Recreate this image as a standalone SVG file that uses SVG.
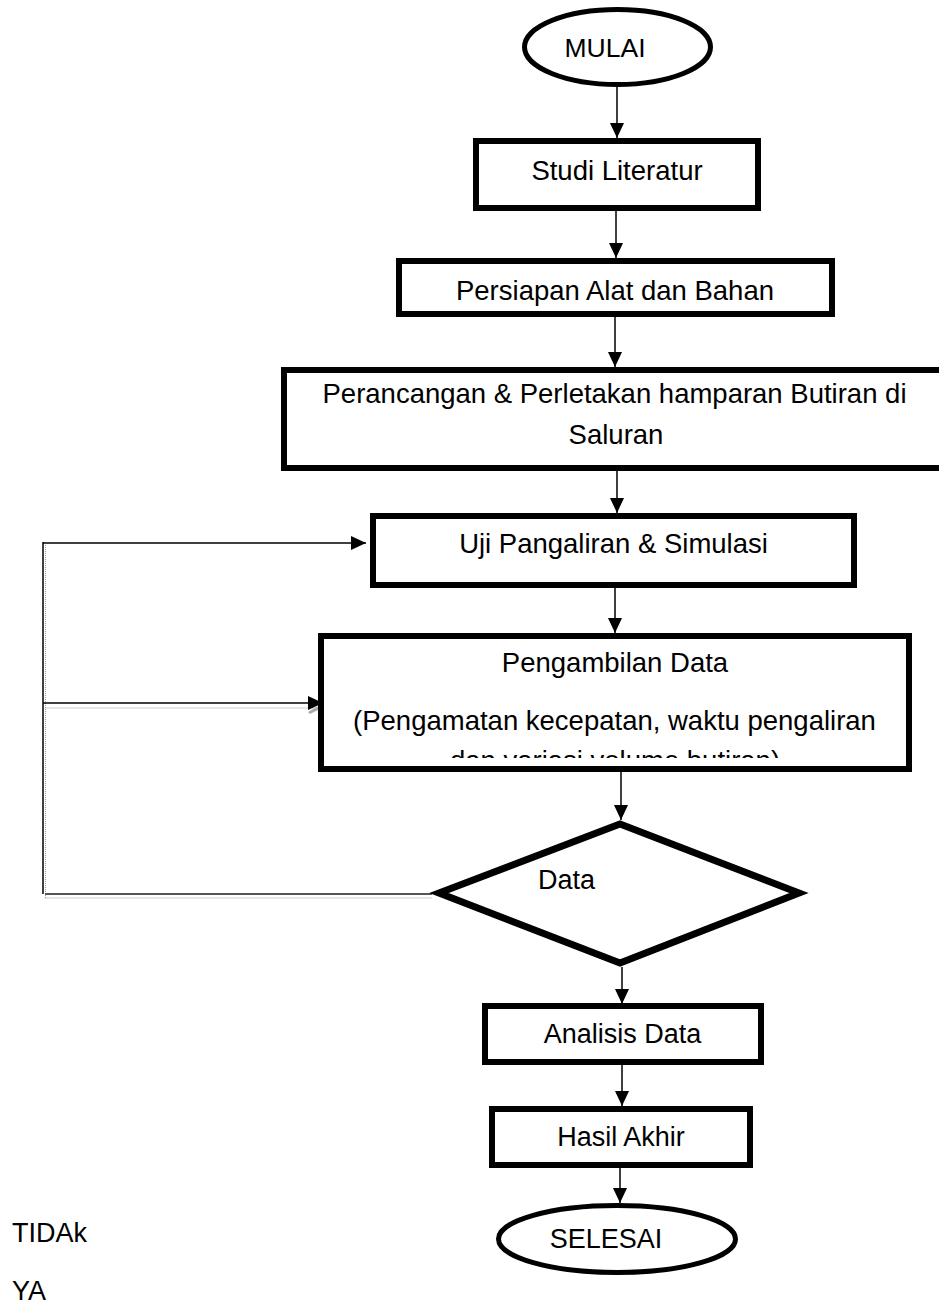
<svg xmlns="http://www.w3.org/2000/svg" width="939" height="1307" viewBox="0 0 939 1307">
<style>
.t{font-family:"Liberation Sans",Arial,sans-serif;font-size:27.5px;fill:#000}
.m{text-anchor:middle}
.box{fill:#fff;stroke:#000;stroke-width:6}
.conn{stroke:#000;stroke-width:1.5;fill:none}
.dot{stroke:#9a9a9a;stroke-width:1;stroke-dasharray:1 1;fill:none}
</style>
<defs>
<marker id="ah" markerWidth="15" markerHeight="14" refX="15" refY="7" orient="auto" markerUnits="userSpaceOnUse">
<path d="M0,0 L15,7 L0,14 Z" fill="#000"/>
</marker>
<clipPath id="clipP"><rect x="318" y="633" width="594" height="125"/></clipPath>
</defs>

<g id="connectors">
<line class="conn" x1="617" y1="87" x2="617" y2="138" marker-end="url(#ah)"/>
<line class="conn" x1="616" y1="211" x2="616" y2="258" marker-end="url(#ah)"/>
<line class="conn" x1="615" y1="317" x2="615" y2="367" marker-end="url(#ah)"/>
<line class="conn" x1="617" y1="471" x2="617" y2="513" marker-end="url(#ah)"/>
<line class="conn" x1="615" y1="588" x2="615" y2="633" marker-end="url(#ah)"/>
<line class="conn" x1="621" y1="772" x2="621" y2="820" marker-end="url(#ah)"/>
<line class="conn" x1="622" y1="967" x2="622" y2="1004" marker-end="url(#ah)"/>
<line class="conn" x1="622" y1="1065" x2="622" y2="1106" marker-end="url(#ah)"/>
<line class="conn" x1="620" y1="1168" x2="620" y2="1203" marker-end="url(#ah)"/>
<line class="dot" x1="45.5" y1="545" x2="45.5" y2="898"/>
<line class="dot" x1="45.5" y1="708" x2="318" y2="708"/>
<line class="dot" x1="45.5" y1="898" x2="432" y2="898"/>
<polygon points="308,712 320,705 322,708 310,714" fill="#aaa"/>
<line class="conn" x1="43" y1="542" x2="43" y2="894"/>
<line class="conn" x1="43" y1="543" x2="366" y2="543" marker-end="url(#ah)"/>
<line class="conn" x1="43" y1="703" x2="323" y2="703" marker-end="url(#ah)"/>
<line x1="45" y1="894" x2="432" y2="894" stroke="#555" stroke-width="2"/>
</g>

<g id="mulai">
<ellipse cx="617.5" cy="47" rx="93" ry="37.5" fill="#fff" stroke="#000" stroke-width="5"/>
<text class="t m" x="605" y="57" style="font-size:26.5px">MULAI</text>
</g>

<g id="studi">
<rect class="box" x="476" y="141" width="282" height="67"/>
<text class="t m" x="617" y="180">Studi Literatur</text>
</g>

<g id="persiapan">
<rect class="box" x="399" y="261" width="433" height="53"/>
<text class="t m" x="615" y="300">Persiapan Alat dan Bahan</text>
</g>

<g id="perancangan">
<rect class="box" x="284" y="370" width="665" height="98"/>
<text class="t m" x="614.5" y="403">Perancangan &amp; Perletakan hamparan Butiran di</text>
<text class="t m" x="616" y="444">Saluran</text>
</g>

<g id="uji">
<rect class="box" x="373" y="516" width="481" height="69"/>
<text class="t m" x="613.5" y="553">Uji Pangaliran &amp; Simulasi</text>
</g>

<g id="pengambilan">
<rect class="box" x="321" y="636" width="588" height="133"/>
<text class="t m" x="615" y="672">Pengambilan Data</text>
<text class="t m" x="614.5" y="730">(Pengamatan kecepatan, waktu pengaliran</text>
<text class="t m" x="615" y="770" clip-path="url(#clipP)">dan variasi volume butiran)</text>
</g>

<g id="decision">
<polygon points="620,824 799,893 620,963 439,893" fill="#fff" stroke="#000" stroke-width="7"/>
<text class="t" x="538" y="889" style="font-size:27px">Data</text>
</g>

<g id="analisis">
<rect class="box" x="485" y="1006" width="276" height="56"/>
<text class="t m" x="622.5" y="1043" style="font-size:27px">Analisis Data</text>
</g>

<g id="hasil">
<rect class="box" x="492" y="1109" width="258" height="56"/>
<text class="t m" x="621" y="1146" style="font-size:27px">Hasil Akhir</text>
</g>

<g id="selesai">
<ellipse cx="617" cy="1239" rx="118.5" ry="33.5" fill="#fff" stroke="#000" stroke-width="5"/>
<text class="t m" x="606" y="1248" style="font-size:27px">SELESAI</text>
</g>

<g id="labels">
<text class="t" x="12" y="1242" style="font-size:27px">TIDAk</text>
<text class="t" x="12" y="1300" style="font-size:27px">YA</text>
</g>
</svg>
